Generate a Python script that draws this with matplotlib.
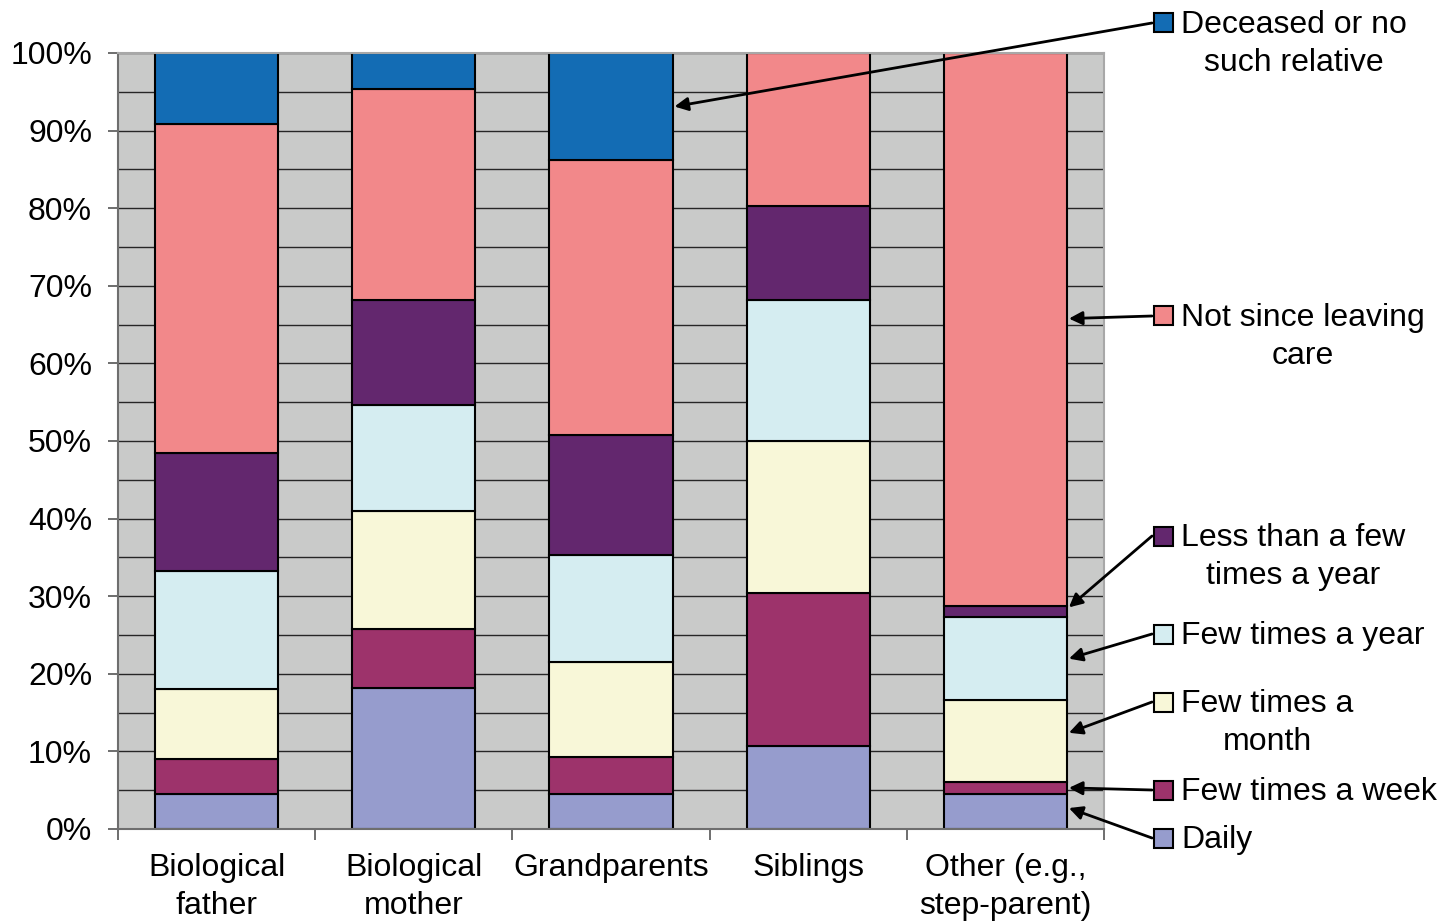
import numpy as np
import matplotlib.pyplot as plt
from matplotlib.patches import Rectangle

plt.rcParams['font.family'] = ['Liberation Sans', 'DejaVu Sans']

# Share of care leavers by how often they see each type of relative (%)
categories = ['Biological\nfather', 'Biological\nmother', 'Grandparents',
              'Siblings', 'Other (e.g.,\nstep-parent)']

daily = [4.5, 18.2, 4.5, 10.7, 4.5]
few_week = [4.5, 7.6, 4.8, 19.7, 1.6]
few_month = [9.0, 15.2, 12.2, 19.6, 10.5]
few_year = [15.2, 13.7, 13.8, 18.2, 10.7]
less_year = [15.2, 13.5, 15.5, 12.1, 1.4]
not_since = [42.4, 27.2, 35.4, 19.7, 71.3]
deceased = [9.2, 4.6, 13.8, 0.0, 0.0]

series = [daily, few_week, few_month, few_year, less_year, not_since, deceased]
series_labels = ['Daily', 'Few times a week', 'Few times a\nmonth',
                 'Few times a year', 'Less than a few\ntimes a year',
                 'Not since leaving\ncare', 'Deceased or no\nsuch relative']
colors = ['#969CCD', '#9D336B', '#F8F7D8', '#D5EDF1', '#63276E',
          '#F2888A', '#136CB4']

FS = 23
W, H = 1442, 921
fig = plt.figure(figsize=(W / 100, H / 100), dpi=100)
ax = fig.add_axes([118 / W, 1 - 829 / H, (1104 - 118) / W, (829 - 53) / H])
ax.set_facecolor('#C9CAC9')

x = np.arange(len(categories))
bar_w = 0.624
bottom = np.zeros(len(categories))
tops = []
for vals, col in zip(series, colors):
    vals = np.array(vals, dtype=float)
    ax.bar(x, vals, bar_w, bottom=bottom, color=col, edgecolor='black',
           linewidth=1.5, zorder=2)
    tops.append((bottom.copy(), bottom + vals))
    bottom = bottom + vals

ax.set_xlim(-0.5, len(categories) - 0.5)
ax.set_ylim(0, 100)

# y axis: labels every 10%, gridlines every 5%
ax.set_yticks(np.arange(0, 101, 10))
ax.set_yticks(np.arange(5, 100, 10), minor=True)
ax.set_yticklabels([f'{v}%' for v in range(0, 101, 10)], fontsize=FS)
ax.tick_params(axis='y', which='major', direction='out', length=7.2,
               width=1.2, color='#555555', pad=11.5)
ax.tick_params(axis='y', which='minor', length=0)
ax.grid(axis='y', which='both', color='#262626', linewidth=1.0, zorder=0)
ax.set_axisbelow(True)

# x axis: labels at bar centres, ticks at category boundaries
ax.set_xticks(x)
ax.set_xticklabels(categories, fontsize=FS, linespacing=1.36)
ax.set_xticks(np.arange(-0.5, len(categories), 1.0), minor=True)
ax.tick_params(axis='x', which='major', length=0, pad=17)
ax.tick_params(axis='x', which='minor', direction='out', length=8,
               width=1.2, color='#555555')

for side in ['left', 'bottom']:
    ax.spines[side].set_color('#6E6E6E')
    ax.spines[side].set_linewidth(1.5)
for side in ['top', 'right']:
    ax.spines[side].set_color('#A8A8A8')
    ax.spines[side].set_linewidth(1.5)

# Callout legend on the right, arrows to the matching segments
legend_y = {6: 23, 5: 316, 4: 536, 3: 634, 2: 702, 1: 790, 0: 838}
arrow_bar = {6: 2, 5: 4, 4: 4, 3: 4, 2: 4, 1: 4, 0: 4}
# where along each segment the arrow lands (0 = bottom, 1 = top)
arrow_frac = {6: 0.5, 5: 0.52, 4: 0.9, 3: 0.5, 2: 0.6, 1: 0.5, 0: 0.6}
sq = 19
for idx, py in legend_y.items():
    fy = 1 - py / H
    fig.patches.append(Rectangle((1154 / W, fy - sq / 2 / H), sq / W, sq / H,
                                 transform=fig.transFigure, facecolor=colors[idx],
                                 edgecolor='black', linewidth=1.5))
    fig.text(1181 / W, fy + 13 / H, series_labels[idx], fontsize=FS,
             ha='left', va='top', multialignment='center',
             linespacing=1.36)
    b = arrow_bar[idx]
    lo, hi = tops[idx]
    target = lo[b] + arrow_frac[idx] * (hi[b] - lo[b])
    ax.annotate('', xy=(b + bar_w / 2 + 0.01, target), xycoords='data',
                xytext=(1152 / W, fy), textcoords='figure fraction',
                arrowprops=dict(arrowstyle='-|>', color='black', lw=2,
                                shrinkA=0, shrinkB=0, mutation_scale=20),
                annotation_clip=False, zorder=5)

fig.savefig('out.png', dpi=100)
